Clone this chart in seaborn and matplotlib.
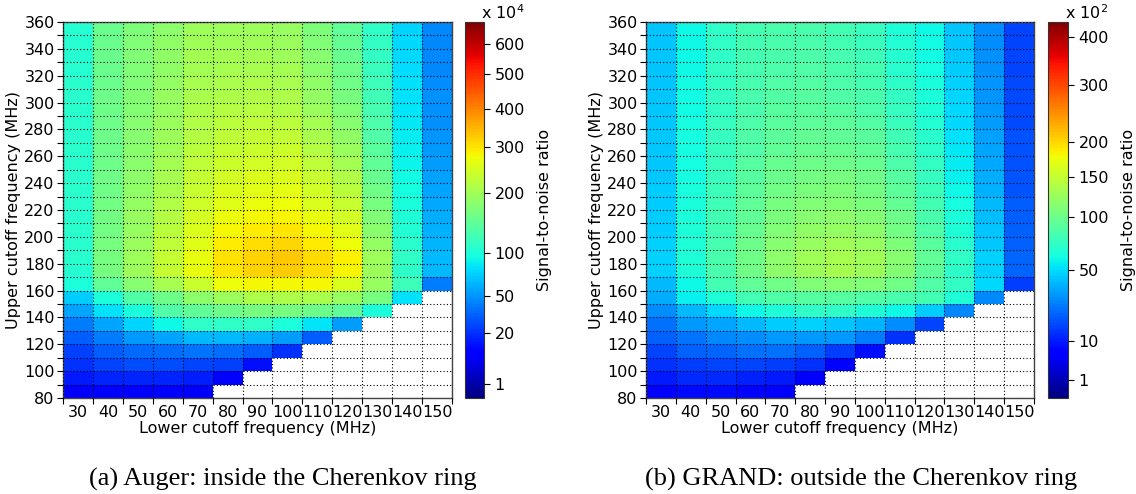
import numpy as np
import pandas as pd
import seaborn as sns
import matplotlib
matplotlib.use("Agg")
import matplotlib.pyplot as plt
from matplotlib.colors import PowerNorm

nan = np.nan

lower_cut = [30, 40, 50, 60, 70, 80, 90, 100, 110, 120, 130, 140, 150]
# rows listed from the top of the plot (350-360 MHz) down to 80-90 MHz
upper_cut = [350, 340, 330, 320, 310, 300, 290, 280, 270, 260, 250, 240, 230, 220,
             210, 200, 190, 180, 170, 160, 150, 140, 130, 120, 110, 100, 90, 80]

# (a) Auger, inside the Cherenkov ring, SNR in units of 1e4
snr_auger = [
    [107, 154, 171, 184, 199, 199, 199, 192, 171, 146, 112, 76, 45],
    [107, 154, 172, 185, 200, 201, 201, 195, 174, 149, 114, 77, 45],
    [107, 154, 172, 186, 202, 203, 204, 197, 177, 152, 115, 77, 46],
    [107, 155, 173, 187, 204, 206, 207, 202, 181, 156, 118, 79, 46],
    [108, 155, 174, 189, 206, 209, 211, 206, 185, 160, 121, 80, 47],
    [108, 156, 175, 191, 209, 213, 216, 211, 190, 166, 124, 81, 48],
    [108, 156, 176, 193, 212, 218, 220, 216, 196, 172, 128, 82, 48],
    [108, 157, 177, 195, 215, 223, 226, 223, 203, 179, 132, 84, 49],
    [108, 157, 179, 198, 219, 228, 232, 230, 210, 186, 136, 86, 50],
    [108, 158, 181, 201, 223, 234, 240, 238, 218, 195, 142, 88, 51],
    [108, 158, 182, 204, 227, 240, 247, 246, 227, 204, 147, 90, 53],
    [108, 159, 184, 207, 232, 247, 255, 256, 236, 214, 153, 93, 54],
    [108, 160, 186, 210, 237, 255, 263, 265, 246, 224, 159, 95, 55],
    [108, 161, 188, 214, 243, 263, 273, 276, 257, 235, 166, 98, 57],
    [108, 162, 191, 218, 249, 271, 282, 287, 268, 247, 173, 101, 58],
    [108, 163, 193, 223, 256, 281, 294, 301, 282, 261, 182, 105, 60],
    [108, 164, 196, 228, 263, 292, 306, 314, 296, 276, 190, 108, 62],
    [108, 165, 199, 233, 270, 302, 318, 328, 310, 290, 199, 112, 64],
    [106, 165, 198, 232, 269, 300, 316, 325, 307, 287, 197, 111, 64],
    [100, 146, 178, 205, 241, 275, 283, 283, 283, 255, 192, 122, 42],
    [71, 100, 134, 158, 184, 199, 213, 213, 210, 192, 165, 80, nan],
    [56, 80, 100, 134, 146, 158, 165, 165, 158, 146, 100, nan, nan],
    [42, 56, 76, 92, 112, 112, 112, 100, 83, 53, nan, nan, nan],
    [32, 42, 51, 56, 64, 64, 61, 53, 32, nan, nan, nan, nan],
    [24, 32, 35, 37, 39, 37, 32, 20, nan, nan, nan, nan, nan],
    [20, 25, 27, 27, 25, 24, 13, nan, nan, nan, nan, nan, nan],
    [15, 18, 18, 18, 16, 9, nan, nan, nan, nan, nan, nan, nan],
    [8, 9, 9, 9, 8, nan, nan, nan, nan, nan, nan, nan, nan],
]

# (b) GRAND, outside the Cherenkov ring, SNR in units of 1e2
snr_grand = [
    [44, 59, 72, 80, 83, 83, 80, 76, 66, 59, 44, 30, 16],
    [44, 59, 72, 80, 84, 84, 81, 77, 67, 60, 45, 30, 16],
    [44, 59, 72, 81, 84, 85, 82, 78, 68, 60, 45, 31, 16],
    [44, 59, 73, 82, 85, 86, 84, 80, 69, 61, 46, 31, 16],
    [44, 60, 73, 82, 87, 88, 85, 81, 71, 63, 47, 32, 17],
    [44, 60, 74, 83, 88, 89, 87, 83, 73, 64, 48, 32, 17],
    [45, 60, 74, 84, 89, 91, 90, 85, 75, 65, 49, 33, 17],
    [45, 61, 75, 85, 91, 93, 92, 88, 77, 67, 50, 34, 17],
    [45, 61, 75, 86, 93, 96, 95, 91, 79, 69, 52, 35, 18],
    [45, 61, 76, 87, 95, 98, 98, 94, 82, 71, 54, 36, 18],
    [45, 62, 76, 89, 97, 101, 101, 97, 85, 73, 55, 37, 18],
    [45, 62, 77, 90, 99, 104, 105, 100, 89, 75, 57, 38, 19],
    [46, 63, 78, 92, 102, 107, 109, 104, 92, 78, 59, 39, 19],
    [46, 63, 79, 94, 105, 111, 113, 108, 96, 81, 61, 41, 20],
    [46, 64, 80, 95, 108, 115, 117, 112, 100, 84, 64, 42, 20],
    [46, 65, 81, 98, 111, 119, 122, 118, 104, 87, 66, 44, 21],
    [47, 65, 82, 100, 115, 124, 128, 123, 109, 91, 69, 45, 21],
    [47, 66, 83, 102, 118, 128, 133, 128, 114, 94, 72, 47, 22],
    [47, 66, 83, 102, 117, 127, 132, 127, 113, 93, 71, 47, 22],
    [41, 59, 80, 94, 102, 110, 114, 110, 102, 86, 74, 49, 15],
    [38, 56, 66, 80, 86, 90, 90, 86, 83, 80, 66, 29, nan],
    [30, 41, 49, 59, 66, 72, 72, 66, 59, 46, 29, nan, nan],
    [24, 33, 36, 41, 46, 47, 44, 40, 30, 16, nan, nan, nan],
    [21, 25, 29, 30, 33, 33, 33, 27, 13, nan, nan, nan, nan],
    [16, 21, 22, 24, 24, 21, 15, 8.5, nan, nan, nan, nan, nan],
    [13, 15, 16, 16, 15, 13, 7, nan, nan, nan, nan, nan, nan],
    [10, 12, 12, 11, 10, 6, nan, nan, nan, nan, nan, nan, nan],
    [6, 8, 8, 7, 6, nan, nan, nan, nan, nan, nan, nan, nan],
]

cbar_ticks_auger = [1, 20, 50, 100, 200, 300, 400, 500, 600]
cbar_ticks_grand = [1, 10, 50, 100, 150, 200, 300, 400]
ytick_labels = [80, 100, 120, 140, 160, 180, 200, 220, 240, 260, 280, 300, 320, 340, 360]
captions = ['(a) Auger: inside the Cherenkov ring', '(b) GRAND: outside the Cherenkov ring']

plt.rcParams['font.family'] = ['DejaVu Sans']
plt.rcParams['axes.axisbelow'] = False
fs = 11.5

fig = plt.figure(figsize=(11.36, 4.94), dpi=100)
W, H = 1136, 494

def px_axes(x0, x1, y0, y1):
    return fig.add_axes([x0 / W, 1 - y1 / H, (x1 - x0) / W, (y1 - y0) / H])

panels = [
    (snr_auger, 675, cbar_ticks_auger, r'x $10^4$', (63, 452), (465, 484), 283),
    (snr_grand, 433, cbar_ticks_grand, r'x $10^2$', (646, 1034), (1048, 1068), 861),
]

for k, (grid, vmax, cticks, factor, axx, cbx, capx) in enumerate(panels):
    ax = px_axes(axx[0], axx[1], 22, 398)
    cax = px_axes(cbx[0], cbx[1], 22, 398)
    df = pd.DataFrame(grid, index=upper_cut, columns=lower_cut)
    sns.heatmap(df, ax=ax, cbar_ax=cax, cmap='jet',
                norm=PowerNorm(gamma=0.5, vmin=0, vmax=vmax),
                xticklabels=False, yticklabels=False)

    # frame back on
    for sp in ax.spines.values():
        sp.set_visible(True)
        sp.set_color('#444444')
        sp.set_linewidth(1.0)

    # x: boundary ticks (grid), labels in cell centres
    ax.set_xticks(np.arange(len(lower_cut) + 1))
    ax.set_xticklabels([])
    ax.set_xticks(np.arange(len(lower_cut)) + 0.5, minor=True)
    ax.set_xticklabels([str(v) for v in lower_cut], minor=True, fontsize=fs)
    ax.tick_params(axis='x', which='minor', length=0, pad=5)
    ax.tick_params(axis='x', which='major', length=4, direction='out')

    # y: tick every 10 MHz, labels every 20 MHz
    nrow = len(upper_cut)
    ax.set_yticks(np.arange(nrow + 1))
    ylabs = []
    for i in range(nrow + 1):
        f = 360 - 10 * i
        ylabs.append(str(f) if f in ytick_labels else '')
    ax.set_yticklabels(ylabs, fontsize=fs, rotation=0)
    ax.tick_params(axis='y', which='major', length=4, direction='out', pad=2)

    ax.grid(True, which='major', color='black', linestyle=(0, (1, 2)), linewidth=0.8)
    ax.set_xlabel('Lower cutoff frequency (MHz)', fontsize=fs, labelpad=1)
    ax.set_ylabel('Upper cutoff frequency (MHz)', fontsize=fs, labelpad=2)

    cb = ax.collections[0].colorbar
    cb.outline.set_linewidth(0.8)
    cb.outline.set_edgecolor('#333333')
    cb.set_ticks(cticks)
    cb.set_ticklabels([str(t) for t in cticks])
    cb.ax.tick_params(labelsize=fs, length=4)
    cb.set_label('Signal-to-noise ratio', fontsize=fs, labelpad=9)
    cax.text(0.85, 1.0, factor, transform=cax.transAxes, ha='left', va='bottom', fontsize=fs)

    fig.text(capx / W, 1 - 479 / H, captions[k], ha='center', va='center',
             fontsize=19, family=['Liberation Serif', 'DejaVu Serif'])

fig.savefig('out.png', dpi=100)
